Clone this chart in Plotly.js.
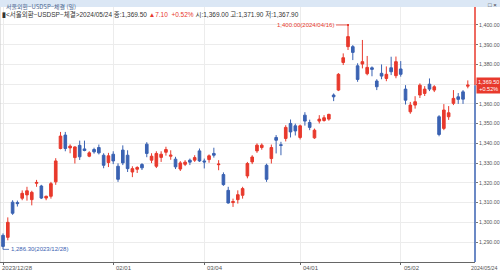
<!DOCTYPE html>
<html><head><meta charset="utf-8">
<script src="https://cdn.plot.ly/plotly-3.0.1.min.js"></script>
<style>html,body{margin:0;padding:0;background:#fff;}#c{width:500px;height:271px;}</style>
</head><body><div id="c"></div>
<script>
const dates = ['2023-12-28',
'2024-01-02','2024-01-03','2024-01-04','2024-01-05','2024-01-08','2024-01-09','2024-01-10','2024-01-11','2024-01-12',
'2024-01-15','2024-01-16','2024-01-17','2024-01-18','2024-01-19','2024-01-22','2024-01-23','2024-01-24','2024-01-25','2024-01-26',
'2024-01-29','2024-01-30','2024-01-31','2024-02-01','2024-02-02','2024-02-05','2024-02-06','2024-02-07','2024-02-08',
'2024-02-13','2024-02-14','2024-02-15','2024-02-16','2024-02-19','2024-02-20','2024-02-21','2024-02-22','2024-02-23',
'2024-02-26','2024-02-27','2024-02-28','2024-02-29','2024-03-04','2024-03-05','2024-03-06','2024-03-07','2024-03-08',
'2024-03-11','2024-03-12','2024-03-13','2024-03-14','2024-03-15','2024-03-18','2024-03-19','2024-03-20','2024-03-21','2024-03-22',
'2024-03-25','2024-03-26','2024-03-27','2024-03-28','2024-03-29','2024-04-01','2024-04-02','2024-04-03','2024-04-04','2024-04-05',
'2024-04-08','2024-04-09','2024-04-11','2024-04-12','2024-04-15','2024-04-16','2024-04-17','2024-04-18','2024-04-19',
'2024-04-22','2024-04-23','2024-04-24','2024-04-25','2024-04-26','2024-04-29','2024-04-30','2024-05-02','2024-05-03',
'2024-05-07','2024-05-08','2024-05-09','2024-05-10','2024-05-13','2024-05-14','2024-05-16','2024-05-17',
'2024-05-20','2024-05-21','2024-05-22','2024-05-23','2024-05-24'];

const openP = [1293.4,
1292.4,1310.2,1310.0,1312.2,1313.9,1311.5,1319.8,1318.4,1312.3,
1313.2,1320.5,1337.4,1344.2,1337.7,1332.8,1339.0,1337.2,1333.5,1336.9,
1337.9,1334.0,1330.3,1334.5,1328.4,1336.6,1334.0,1325.5,1326.9,
1329.3,1339.6,1331.5,1328.4,1332.9,1335.5,1333.5,1332.0,1327.0,
1329.4,1331.5,1331.5,1336.2,1331.1,1331.8,1334.9,1329.2,1324.2,
1316.2,1310.0,1311.5,1313.7,1323.5,1330.6,1336.2,1337.9,1328.9,1332.3,
1343.0,1339.3,1342.5,1350.1,1348.9,1343.0,1354.3,1350.6,1342.8,1351.3,
1351.6,1352.3,1364.5,1367.0,1381.0,1389.0,1389.0,1379.3,1380.2,
1375.3,1378.3,1371.6,1375.5,1372.9,1378.3,1374.3,1377.7,1367.5,
1356.0,1359.4,1364.5,1365.3,1370.0,1367.0,1353.5,1347.6,
1353.5,1360.3,1363.6,1366.1,1369.0];

const highP = [1294.4,
1302.5,1311.2,1311.0,1316.2,1318.0,1316.0,1321.5,1319.0,1313.5,
1320.5,1332.5,1345.8,1345.8,1339.5,1338.5,1341.4,1341.4,1336.0,1337.8,
1339.4,1335.0,1335.2,1336.0,1329.9,1339.0,1336.5,1328.4,1328.4,
1330.0,1340.6,1335.0,1336.0,1336.0,1338.3,1336.5,1333.2,1331.0,
1331.5,1332.3,1334.0,1337.4,1332.3,1334.4,1337.8,1331.5,1325.3,
1318.0,1312.0,1316.2,1318.0,1330.6,1334.0,1340.0,1340.0,1329.7,1339.4,
1344.2,1340.8,1349.2,1352.1,1350.0,1349.5,1355.8,1352.0,1347.5,1354.3,
1354.3,1355.0,1365.3,1375.6,1385.6,1400.0,1389.8,1380.6,1392.4,
1384.3,1379.0,1372.5,1380.0,1379.0,1383.9,1384.0,1381.7,1369.5,
1361.0,1363.9,1370.4,1369.0,1372.9,1369.5,1354.3,1359.9,
1358.9,1367.0,1365.5,1367.0,1371.9];

const lowP = [1286.3,
1290.9,1303.8,1308.0,1311.2,1311.0,1308.6,1318.0,1311.8,1311.2,
1312.0,1319.0,1337.0,1336.0,1335.0,1329.8,1331.6,1336.0,1333.0,1334.8,
1334.4,1327.4,1328.0,1329.5,1320.5,1329.0,1325.5,1322.9,1325.0,
1326.5,1333.0,1330.0,1327.5,1330.6,1333.8,1331.7,1327.0,1326.0,
1328.5,1329.0,1330.6,1330.6,1327.3,1330.2,1332.8,1326.4,1318.5,
1309.5,1307.8,1309.5,1312.0,1322.3,1329.5,1335.2,1336.8,1320.5,1329.8,
1334.9,1334.0,1341.0,1343.0,1344.0,1342.0,1349.0,1346.7,1342.3,1350.1,
1351.0,1351.5,1361.4,1366.5,1379.7,1387.3,1382.2,1371.2,1378.0,
1374.5,1374.0,1367.0,1372.5,1371.5,1374.6,1373.0,1373.8,1359.7,
1355.0,1357.6,1363.0,1364.0,1366.5,1366.0,1343.6,1346.7,
1351.9,1359.4,1360.0,1360.0,1367.9];

const closeP = [1287.8,
1300.0,1304.6,1309.5,1314.7,1316.0,1315.2,1320.2,1312.3,1313.2,
1319.6,1331.1,1343.7,1337.4,1338.6,1338.2,1333.2,1336.4,1335.2,1335.7,
1335.2,1328.9,1333.7,1331.1,1321.8,1330.1,1327.2,1327.2,1327.8,
1327.6,1334.9,1333.5,1334.9,1334.5,1336.9,1334.0,1328.1,1330.1,
1330.5,1330.5,1332.8,1331.1,1330.6,1333.7,1334.0,1329.5,1319.1,
1309.8,1310.5,1314.0,1317.1,1329.8,1333.1,1339.1,1339.1,1321.8,1337.9,
1341.6,1339.0,1348.1,1345.8,1346.3,1348.9,1351.3,1348.1,1346.7,1352.3,
1353.0,1354.7,1363.6,1375.0,1383.4,1394.1,1386.1,1372.4,1381.4,
1378.5,1377.5,1368.7,1374.1,1375.0,1376.3,1381.4,1375.0,1361.9,
1359.4,1361.1,1369.5,1367.5,1367.5,1368.7,1344.5,1356.9,
1355.5,1362.8,1362.3,1362.4,1369.5];

const xTickDates = ['2023-12-28','2024-02-01','2024-03-04','2024-04-01','2024-05-02'];
const xTickText  = ['2023/12/28','02/01','03/04','04/01','05/02'];
const lastLabel = '2024/05/24';
const yTicks = [1290,1300,1310,1320,1330,1340,1350,1360,1370,1380,1390,1400];
const hiValue = 1400.00, hiDate = '2024-04-16', hiLabel = '1,400.00(2024/04/16)';
const loValue = 1286.30, loDate = '2023-12-28', loLabel = '1,286.30(2023/12/28)';
const lastClose = 1369.50, lastChgPct = '+0.52%';
const titleText = '서울외환−USDSP−체결 (일)';
const infoText = '<b>▮</b><서울외환−USDSP−체결>2024/05/24 종:1,369.50 <span style="color:#e8392c">▲7.10  +0.52%</span> 시:1,369.00 고:1,371.90 저:1,367.90';

const RED = '#e8392c', BLUE = '#3a62b2';
const FONT = 'Liberation Sans, Arial, Noto Sans CJK KR, sans-serif';
const yMin = 1279.9, yMax = 1409.1;

const trace = {
  type: 'candlestick', x: dates, open: openP, high: highP, low: lowP, close: closeP,
  increasing: {line: {color: RED, width: 1}, fillcolor: RED},
  decreasing: {line: {color: BLUE, width: 1}, fillcolor: BLUE},
  whiskerwidth: 0, hoverinfo: 'none'
};

const fmt = v => v.toLocaleString('en-US', {minimumFractionDigits: 2, maximumFractionDigits: 2});
// the current-price tag covers the tick label nearest to the last close
const yTickText = yTicks.map(v => Math.abs(v - lastClose) < 3 ? '' : fmt(v));

const annotations = [];
xTickDates.forEach((d, i) => {
  annotations.push({x: dates.indexOf(d), xref: 'x', y: 0, yref: 'paper', yanchor: 'top', xanchor: 'left',
    yshift: -1, xshift: i === 0 ? -3 : 1, text: xTickText[i], showarrow: false, font: {size: 6, color: '#555', family: FONT}});
});
annotations.push({x: 500 / 475, xref: 'paper', y: 0, yref: 'paper', yanchor: 'top', xanchor: 'right', xshift: 0, yshift: -1,
  text: lastLabel, showarrow: false, font: {size: 5.3, color: '#555', family: FONT}});
annotations.push({x: dates.indexOf(hiDate), y: hiValue, xref: 'x', yref: 'y', text: hiLabel, xanchor: 'right',
  showarrow: true, ax: -12, ay: 0, arrowhead: 7, arrowsize: 0.6, arrowwidth: 0.8, arrowcolor: RED, standoff: 0,
  font: {size: 6, color: RED, family: FONT}});
annotations.push({x: dates.indexOf(loDate), y: loValue, xref: 'x', yref: 'y', text: loLabel, xanchor: 'left',
  showarrow: true, ax: 6, ay: 0, arrowhead: 0, arrowwidth: 0.8, arrowcolor: BLUE, standoff: 0,
  font: {size: 6, color: BLUE, family: FONT}});
annotations.push({x: 1, xref: 'paper', y: lastClose, yref: 'y', xanchor: 'left', xshift: 1, yanchor: 'middle',
  text: fmt(lastClose) + '<br>' + lastChgPct, showarrow: false, bgcolor: RED, borderpad: 1,
  font: {size: 5.5, color: '#fff', family: FONT}});
annotations.push({x: 0, xref: 'paper', y: 1.0275, yref: 'paper', yanchor: 'top', xanchor: 'left', xshift: 4,
  text: titleText, showarrow: false, font: {size: 6, color: '#4d6890', family: 'Noto Sans CJK KR, sans-serif'}});
annotations.push({x: 500 / 475, xref: 'paper', y: 1.0275, yref: 'paper', yanchor: 'top', xanchor: 'right', xshift: -1,
  text: '□ ×', showarrow: false, font: {size: 6, color: '#333', family: FONT}});
annotations.push({x: 0, xref: 'paper', y: 0.998, yref: 'paper', yanchor: 'top', xanchor: 'left', xshift: 0,
  text: infoText, showarrow: false, font: {size: 6.5, color: '#333', family: FONT}});

const shapes = [
  {type: 'rect', xref: 'paper', yref: 'paper', x0: -0.01, x1: 1.06, y0: 1.0, y1: 1.03, fillcolor: '#dbe7f5', line: {width: 0}, layer: 'below'},
  {type: 'line', xref: 'paper', yref: 'y', x0: 1, x1: 1, y0: lastClose, y1: yMax, line: {color: RED, width: 1.5}},
  {type: 'line', xref: 'paper', yref: 'y', x0: 1, x1: 1, y0: yMin, y1: lastClose, line: {color: BLUE, width: 1.5}},
  {type: 'line', xref: 'paper', yref: 'paper', x0: 0, x1: 0, y0: 0, y1: 1, line: {color: '#c8c8c8', width: 1}}
];

const layout = {
  width: 500, height: 271,
  margin: {l: 0, r: 25, t: 7, b: 9, pad: 0},
  paper_bgcolor: '#fff', plot_bgcolor: '#fff',
  showlegend: false,
  boxgap: 0.22,
  font: {family: FONT, size: 6, color: '#555'},
  xaxis: {type: 'category', categoryorder: 'array', categoryarray: dates,
    range: [-0.63, 98.5], rangeslider: {visible: false},
    tickvals: xTickDates, ticktext: xTickDates.map(() => ''), ticks: 'outside', ticklen: 2, tickcolor: '#666',
    showgrid: true, gridcolor: '#ececec', gridwidth: 1,
    showline: true, linecolor: '#666', linewidth: 1, zeroline: false, fixedrange: true},
  yaxis: {side: 'right', range: [yMin, yMax], tickvals: yTicks, ticktext: yTickText,
    ticks: 'outside', ticklen: 2, tickcolor: '#777', tickfont: {size: 5.3, color: '#555', family: FONT},
    showgrid: true, gridcolor: '#ececec', gridwidth: 1, showline: false, zeroline: false, fixedrange: true},
  annotations: annotations,
  shapes: shapes
};

Plotly.newPlot('c', [trace], layout, {staticPlot: true, displayModeBar: false});
</script>
</body></html>
